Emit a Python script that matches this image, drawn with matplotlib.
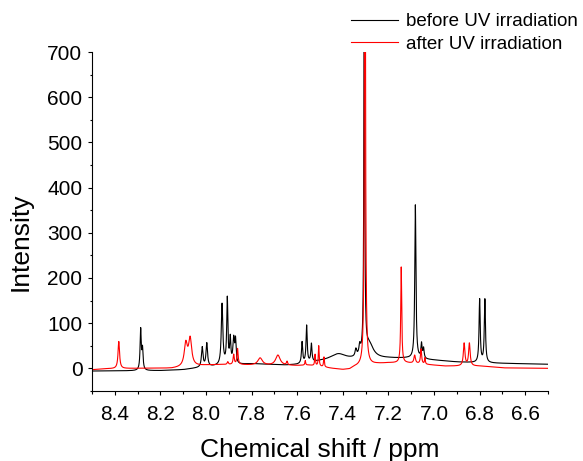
import matplotlib
matplotlib.use('Agg')
import matplotlib.pyplot as plt
from matplotlib.ticker import MultipleLocator
import numpy as np

# пiки до УФ: положення (ppm), висота, напівширина (ppm)
before_ppm = [8.287, 8.279, 8.017, 7.997, 7.930, 7.907, 7.894, 7.879, 7.871,
              7.579, 7.559, 7.538, 7.420, 7.343, 7.326, 7.306, 7.285,
              7.082, 7.055, 7.046, 6.800, 6.777]
before_height = [90, 45, 44, 52, 135, 145, 55, 55, 50,
                 47, 82, 40, 14, 16, 20, 1000, 32,
                 340, 32, 22, 140, 140]
before_width = [0.003, 0.003, 0.004, 0.004, 0.004, 0.003, 0.003, 0.004, 0.003,
                0.003, 0.003, 0.003, 0.040, 0.004, 0.004, 0.002, 0.022,
                0.003, 0.003, 0.003, 0.003, 0.003]
# базова лінія до УФ
before_base_ppm = [8.50, 8.20, 8.10, 8.05, 7.95, 7.80, 7.65, 7.60, 7.50, 7.45,
                   7.35, 7.30, 7.20, 7.12, 7.00, 6.90, 6.80, 6.60, 6.50]
before_base = [-6, -5, -3, 0, 5, 10, 7, 8, 15, 17,
               18, 20, 22, 22, 18, 14, 12, 10, 9]

# пiки після УФ
after_ppm = [8.383, 8.089, 8.070, 7.905, 7.879, 7.862, 7.763, 7.685, 7.645,
             7.565, 7.522, 7.506, 7.483, 7.303, 7.144, 7.085, 7.057, 7.040,
             6.868, 6.845]
after_height = [60, 50, 60, 6, 22, 35, 16, 23, 8,
                10, 25, 45, 22, 1500, 212, 18, 33, 14,
                50, 50]
after_width = [0.004, 0.008, 0.008, 0.003, 0.003, 0.003, 0.012, 0.012, 0.003,
               0.002, 0.002, 0.002, 0.002, 0.0022, 0.0025, 0.004, 0.003, 0.002,
               0.004, 0.004]
after_base_ppm = [8.50, 8.45, 8.30, 8.15, 8.00, 7.95, 7.85, 7.80, 7.70, 7.60,
                  7.55, 7.50, 7.45, 7.40, 7.37, 7.35, 7.25, 7.20, 7.12, 7.00,
                  6.95, 6.80, 6.75, 6.70, 6.50]
after_base = [-3, -1, 0, 0, 7, 8, 8, 7, 6, 6,
              7, 4, 0, -3, -2, 3, 10, 12, 12, 7,
              5, 5, 3, 1, 0]


def spectrum(x, ppm, height, width, base_ppm, base):
    y = np.interp(x, base_ppm[::-1], base[::-1])
    for p, h, w in zip(ppm, height, width):
        y = y + h * w**2 / ((x - p)**2 + w**2)
    return y


x = np.linspace(8.5, 6.5, 20001)
y_before = spectrum(x, before_ppm, before_height, before_width, before_base_ppm, before_base)
y_after = spectrum(x, after_ppm, after_height, after_width, after_base_ppm, after_base)

plt.rcParams['font.family'] = ['Liberation Sans', 'DejaVu Sans']

fig = plt.figure(figsize=(5.83, 4.61), dpi=100)
ax = fig.add_axes([0.158, 0.152, 0.782, 0.735])

ax.plot(x, y_before, color='black', lw=0.8, label='before UV irradiation')
ax.plot(x, y_after, color='red', lw=0.8, label='after UV irradiation')

ax.set_xlim(8.5, 6.5)
ax.set_ylim(-50, 700)
ax.xaxis.set_major_locator(MultipleLocator(0.2))
ax.xaxis.set_minor_locator(MultipleLocator(0.1))
ax.yaxis.set_major_locator(MultipleLocator(100))
ax.yaxis.set_minor_locator(MultipleLocator(50))
ax.tick_params(which='major', direction='out', length=3, width=0.8, labelsize=15, pad=4)
ax.tick_params(which='minor', direction='out', length=1.8, width=0.8)
ax.tick_params(axis='x', which='major', pad=7)

ax.spines['top'].set_visible(False)
ax.spines['right'].set_visible(False)

ax.set_xlabel('Chemical shift / ppm', fontsize=19, labelpad=10)
ax.set_ylabel('Intensity', fontsize=19)
ax.yaxis.set_label_coords(-0.13, 0.44)

ax.legend(loc='upper left', bbox_to_anchor=(351 / 583, 1 - 13 / 461),
          bbox_transform=fig.transFigure, frameon=False, fontsize=13.5,
          handlelength=2.5, handletextpad=0.45, labelspacing=0.3,
          borderpad=0, borderaxespad=0)

plt.savefig('out.png', dpi=100)
plt.close()
